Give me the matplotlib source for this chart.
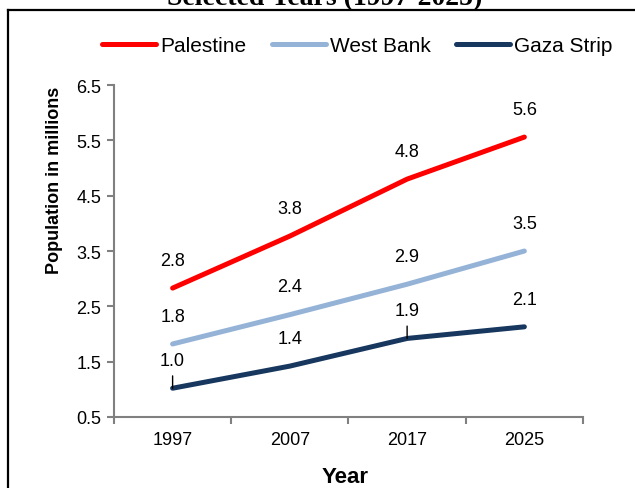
import matplotlib
matplotlib.use("Agg")
import matplotlib.pyplot as plt
from matplotlib.lines import Line2D

plt.rcParams['font.family'] = ['Liberation Sans', 'DejaVu Sans']

# Data (population in millions)
years = ['1997', '2007', '2017', '2025']
palestine = [2.83, 3.77, 4.80, 5.56]
west_bank = [1.82, 2.35, 2.90, 3.50]
gaza_strip = [1.02, 1.42, 1.92, 2.13]
palestine_labels = ['2.8', '3.8', '4.8', '5.6']
west_bank_labels = ['1.8', '2.4', '2.9', '3.5']
gaza_labels = ['1.0', '1.4', '1.9', '2.1']
y_ticks = [0.5, 1.5, 2.5, 3.5, 4.5, 5.5, 6.5]

series = [
    ('Palestine', palestine, palestine_labels, '#FF0000'),
    ('West Bank', west_bank, west_bank_labels, '#95B3D7'),
    ('Gaza Strip', gaza_strip, gaza_labels, '#17375E'),
]

fig = plt.figure(figsize=(6.35, 4.89), dpi=100)
ax = fig.add_axes([0.1795, 0.1452, 0.7386, 0.6788])

x = list(range(len(years)))
for name, vals, labels, color in series:
    ax.plot(x, vals, color=color, lw=3.6, solid_capstyle='round',
            solid_joinstyle='round', label=name)
    for i, (v, lab) in enumerate(zip(vals, labels)):
        if name == 'Gaza Strip' and i in (0, 2):
            # labels with leader lines
            ax.annotate(lab, xy=(i, v), xytext=(0, 20), textcoords='offset points',
                        ha='center', va='center', fontsize=13,
                        arrowprops=dict(arrowstyle='-', color='black', lw=1,
                                        shrinkA=3, shrinkB=0))
        else:
            ax.annotate(lab, xy=(i, v), xytext=(0, 20), textcoords='offset points',
                        ha='center', va='center', fontsize=13)

ax.set_xlim(-0.5, len(years) - 0.5)
ax.set_ylim(0.5, 6.5)
ax.set_yticks(y_ticks)
ax.set_yticklabels(['%.1f' % t for t in y_ticks])
ax.set_xticks([i - 0.5 for i in range(len(years) + 1)])
ax.set_xticklabels([])
ax.set_xticks(x, minor=True)
ax.set_xticklabels(years, minor=True)
ax.tick_params(axis='x', which='minor', length=0, labelsize=13, pad=10)
ax.tick_params(axis='x', which='major', length=5, width=1.5, color='#808080')
ax.tick_params(axis='y', length=5, width=1.5, color='#808080', labelsize=13, pad=4)

for side in ['top', 'right']:
    ax.spines[side].set_visible(False)
for side in ['left', 'bottom']:
    ax.spines[side].set_color('#808080')
    ax.spines[side].set_linewidth(1.5)

fig.text(0.0866, 0.632, 'Population in millions', rotation=90, ha='center',
         va='center', fontsize=13, fontweight='bold')
fig.text(0.543, 0.0245, 'Year', ha='center', va='center', fontsize=16,
         fontweight='bold')

fig.legend(loc='center', bbox_to_anchor=(0.563, 0.904), ncol=3, frameon=False,
           fontsize=15, handlelength=2.6, handletextpad=0.2, columnspacing=1.2)

# title (cut off at the top of the picture)
fig.text(0.512, 1 - 5 / 489, 'Selected Years (1997-2025)', ha='center',
         va='baseline', fontsize=20, fontweight='bold', family='Liberation Serif')

# chart frame
fig.add_artist(Line2D([8 / 635, 8 / 635], [0, 1 - 11 / 489], color='black',
                      lw=1.6, transform=fig.transFigure))
fig.add_artist(Line2D([8 / 635, 1], [1 - 11 / 489, 1 - 11 / 489], color='black',
                      lw=1.6, transform=fig.transFigure))

fig.savefig('out.png', dpi=100)
